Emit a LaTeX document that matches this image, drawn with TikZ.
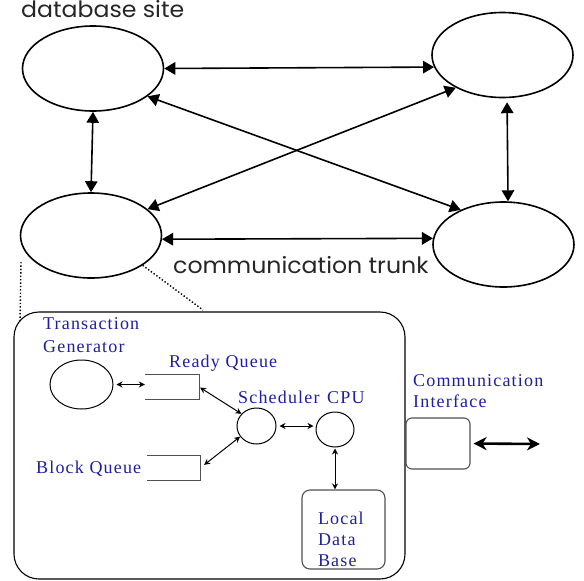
\documentclass[tikz,border=0pt]{standalone}
\usepackage{fontspec}
\setmainfont{Liberation Serif}
\newfontfamily\gothic[FakeStretch=1.05]{Poppins}
\usetikzlibrary{arrows.meta,shapes.geometric}
\definecolor{lblue}{RGB}{30,30,160}
\definecolor{dgray}{RGB}{80,80,80}
\begin{document}
\begin{tikzpicture}[x=1pt,y=-1pt,
  site/.style={draw, ellipse, line width=1.6pt, minimum width=141pt, minimum height=85pt, inner sep=0pt},
  trunk/.style={line width=1.6pt, {Triangle[length=11pt,width=12.5pt]}-{Triangle[length=11pt,width=12.5pt]}},
  big/.style={font=\gothic\fontsize{22.5}{26}\selectfont, text=black!85, inner sep=0pt},
  lab/.style={font=\fontsize{18}{21}\selectfont\addfontfeatures{LetterSpace=6.5}, text=lblue, inner sep=0pt, align=left},
  circ/.style={draw, ellipse, line width=1pt, inner sep=0pt},
  queue/.style={inner sep=0pt, minimum height=24pt},
  qline/.style={draw=dgray, line width=1pt},
  gbox/.style={draw=dgray, line width=1.1pt, inner sep=0pt},
  small/.style={line width=1pt, {Stealth[length=6pt,width=6pt]}-{Stealth[length=6pt,width=6pt]}},
  thickarr/.style={line width=2.6pt, {Stealth[length=13pt,width=13pt,inset=4pt]}-{Stealth[length=13pt,width=13pt,inset=4pt]}},
  dots/.style={dotted, line width=1.4pt}
]
\useasboundingbox (0,0) rectangle (584,581);

% sites
\node[site] (A) at (93,68.5) {};
\node[site] (B) at (502.5,55) {};
\node[site] (C) at (91,235.5) {};
\node[site] (D) at (503.5,244.5) {};

\draw[trunk] (A.0) -- (B.190);
\draw[trunk] (A.south) -- (C.north);
\draw[trunk, shorten <=4pt] (B.-84) -- (D.84);
\draw[trunk] (C.-3) -- (D.175);
\draw[trunk] (A.-27) -- (D.141);
\draw[trunk] (C.25) -- (B.215);

\node[big, anchor=base west] (ds) at (21,17) {database site};
\node[big, anchor=base west] (ct) at (173,273) {communication trunk};

% zoom box
\node[draw, rounded corners=25pt, line width=1.1pt, minimum width=391pt, minimum height=267pt, inner sep=0pt] (site) at (209.5,445.5) {};

\coordinate (p1) at (21,262);
\coordinate (p2) at (20,322);
\coordinate (p3) at (203,310);
\draw[dots] (p1) -- (p2);
\draw[dots] (C.-30) -- (p3);

% inside
\node[circ, minimum width=63pt, minimum height=49pt] (tg) at (81.5,384.5) {};
\node[queue, minimum width=54pt] (rq) at (172,387) {};
\draw[qline] (rq.north west) -- (rq.north east) -- (rq.south east) -- (rq.south west);
\node[queue, minimum width=53pt] (bq) at (173.5,468) {};
\draw[qline] (bq.north west) -- (bq.north east) -- (bq.south east) -- (bq.south west);
\node[circ, minimum width=39pt, minimum height=36pt] (sch) at (256.5,426) {};
\node[circ, minimum width=38pt, minimum height=35pt] (cpu) at (335,429.5) {};
\node[gbox, rounded corners=8pt, minimum width=83pt, minimum height=79pt, text width=51pt, align=left,
      font=\fontsize{18}{21}\selectfont\addfontfeatures{LetterSpace=6.5}, text=lblue] (ldb) at (343.5,529.5) {\rule{0pt}{32.5pt}Local\\Data\\Base};
\node[gbox, rounded corners=6pt, minimum width=64pt, minimum height=51pt] (ci) at (438,443.5) {};
\coordinate (ciend) at (540,444);

\draw[small, shorten <=3pt] (tg.east) -- (tg.east -| rq.west);
\draw[small, shorten <=1pt] (rq.east) -- (sch.141);
\draw[small, shorten <=5pt] (bq.east) -- (sch.213);
\draw[small, shorten <=3pt, shorten >=2pt] (sch.east) -- (sch.east -| cpu.west);
\draw[small, shorten <=1pt] (cpu.south) -- (cpu.south |- ldb.north);
\draw[thickarr, shorten <=3pt] (ci.east) -- (ciend);

\node[lab, font=\fontsize{18}{23}\selectfont\addfontfeatures{LetterSpace=6.5}, anchor=base west] (tgl) at (43,352) {Transaction\\Generator};
\node[lab, anchor=base west] (rql) at (169,367) {Ready Queue};
\node[lab, anchor=base west] (schl) at (238,403) {Scheduler};
\node[lab, anchor=base west] (cpul) at (327,403) {CPU};
\node[lab, anchor=base west] (bql) at (36,473) {Block Queue};
\node[lab, font=\fontsize{18}{20.5}\selectfont\addfontfeatures{LetterSpace=6.5}, anchor=base west] (cil) at (413,407) {Communication\\Interface};
\end{tikzpicture}
\end{document}
